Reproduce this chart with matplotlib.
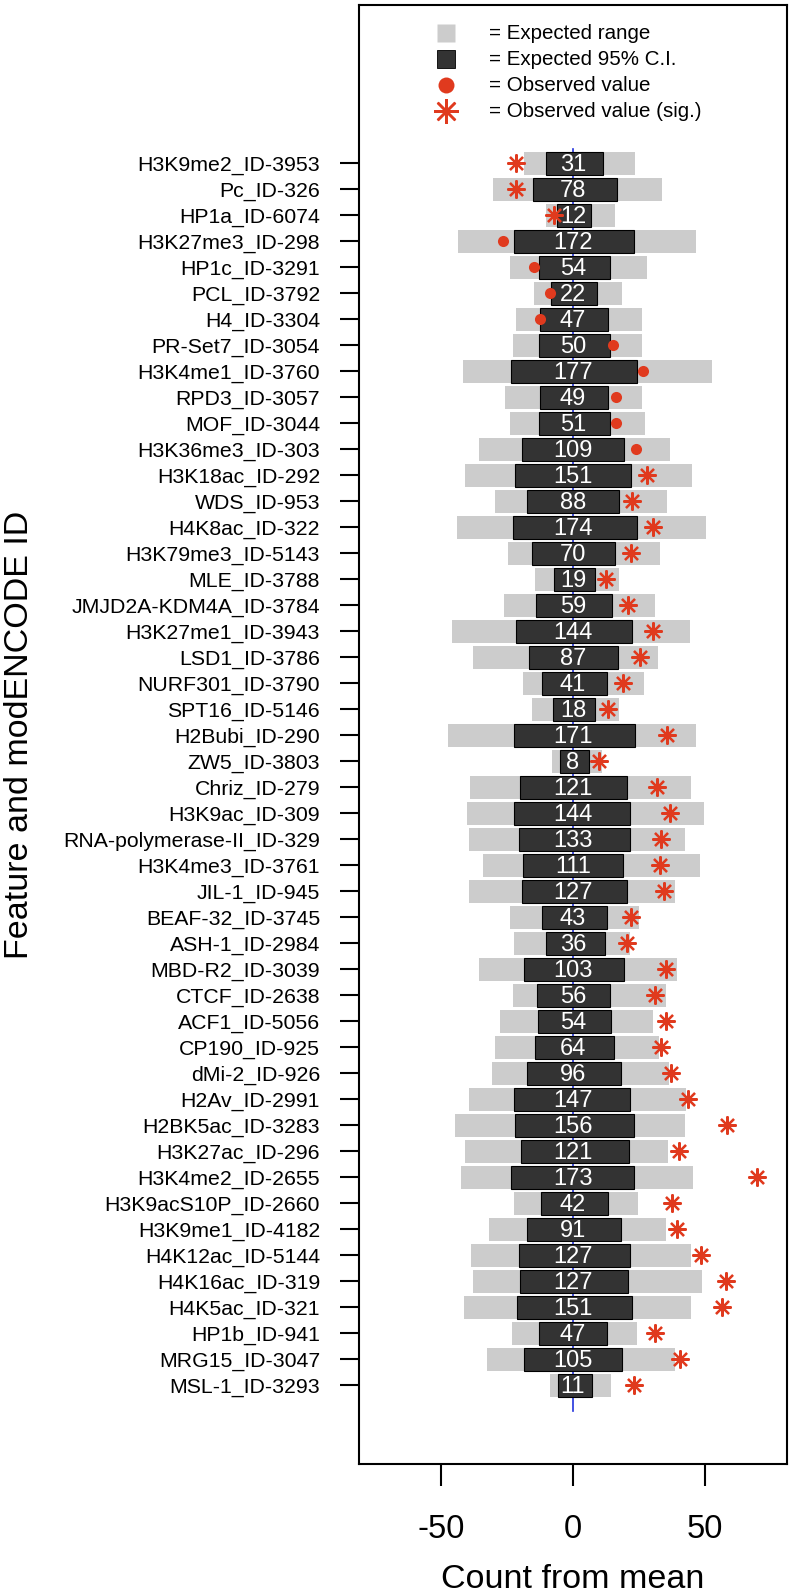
import matplotlib
matplotlib.use("Agg")
import matplotlib.pyplot as plt
import numpy as np

plt.rcParams['font.family'] = ['Liberation Sans', 'DejaVu Sans']
plt.rcParams['axes.unicode_minus'] = False

features = ["H3K9me2_ID-3953", "Pc_ID-326", "HP1a_ID-6074", "H3K27me3_ID-298", "HP1c_ID-3291",
            "PCL_ID-3792", "H4_ID-3304", "PR-Set7_ID-3054", "H3K4me1_ID-3760", "RPD3_ID-3057",
            "MOF_ID-3044", "H3K36me3_ID-303", "H3K18ac_ID-292", "WDS_ID-953", "H4K8ac_ID-322",
            "H3K79me3_ID-5143", "MLE_ID-3788", "JMJD2A-KDM4A_ID-3784", "H3K27me1_ID-3943",
            "LSD1_ID-3786", "NURF301_ID-3790", "SPT16_ID-5146", "H2Bubi_ID-290", "ZW5_ID-3803",
            "Chriz_ID-279", "H3K9ac_ID-309", "RNA-polymerase-II_ID-329", "H3K4me3_ID-3761",
            "JIL-1_ID-945", "BEAF-32_ID-3745", "ASH-1_ID-2984", "MBD-R2_ID-3039", "CTCF_ID-2638",
            "ACF1_ID-5056", "CP190_ID-925", "dMi-2_ID-926", "H2Av_ID-2991", "H2BK5ac_ID-3283",
            "H3K27ac_ID-296", "H3K4me2_ID-2655", "H3K9acS10P_ID-2660", "H3K9me1_ID-4182",
            "H4K12ac_ID-5144", "H4K16ac_ID-319", "H4K5ac_ID-321", "HP1b_ID-941", "MRG15_ID-3047",
            "MSL-1_ID-3293"]

counts = [31, 78, 12, 172, 54, 22, 47, 50, 177, 49, 51, 109, 151, 88, 174, 70, 19, 59, 144,
          87, 41, 18, 171, 8, 121, 144, 133, 111, 127, 43, 36, 103, 56, 54, 64, 96, 147, 156,
          121, 173, 42, 91, 127, 127, 151, 47, 105, 11]

range_lo = [-18.4, -30.4, -10.2, -43.6, -23.9, -14.6, -21.5, -22.7, -41.5, -25.6, -23.7, -35.5,
            -40.9, -29.4, -43.8, -24.7, -14.4, -26.0, -45.7, -37.8, -19.1, -15.5, -47.2, -8.0,
            -39.1, -40.3, -39.5, -34.1, -39.4, -24.0, -22.5, -35.7, -22.7, -27.7, -29.4, -30.7,
            -39.4, -44.8, -40.9, -42.6, -22.3, -31.7, -38.5, -38.0, -41.4, -23.0, -32.6, -8.7]
range_hi = [23.5, 33.6, 15.8, 46.5, 28.0, 18.4, 26.3, 26.0, 52.5, 26.3, 27.1, 36.6, 45.1, 35.5,
            50.3, 33.1, 17.4, 30.9, 44.2, 32.2, 26.9, 17.4, 46.6, 10.9, 44.8, 49.6, 42.6, 48.0,
            38.5, 24.9, 21.7, 39.4, 35.1, 30.3, 32.6, 36.4, 42.8, 42.3, 36.1, 45.3, 24.6, 35.1,
            44.6, 49.0, 44.7, 24.1, 38.6, 14.3]
ci_lo = [-10.4, -15.3, -6.1, -22.5, -12.8, -8.5, -12.5, -12.8, -23.4, -12.6, -12.8, -19.3, -21.8,
         -17.4, -22.7, -15.7, -7.3, -14.0, -21.6, -16.7, -11.9, -7.4, -22.2, -4.9, -20.1, -22.2,
         -20.5, -18.9, -19.4, -11.9, -10.4, -18.6, -13.6, -13.4, -14.3, -17.6, -22.2, -21.8,
         -19.8, -23.6, -12.2, -17.6, -20.5, -19.9, -21.3, -12.8, -18.4, -5.8]
ci_hi = [11.5, 16.7, 6.7, 23.2, 14.0, 9.2, 13.4, 14.0, 24.4, 13.4, 14.0, 19.4, 22.1, 17.3, 24.1,
         16.0, 8.3, 14.8, 22.2, 17.2, 12.8, 8.2, 23.5, 5.9, 20.6, 21.6, 21.5, 18.8, 20.5, 12.8,
         12.2, 19.2, 14.0, 14.4, 15.4, 18.3, 21.6, 23.1, 21.2, 23.2, 13.4, 18.2, 21.6, 21.0,
         22.5, 13.0, 18.4, 7.2]
observed = [-21.6, -21.5, -7.2, -26.6, -14.9, -8.6, -12.6, 15.3, 26.6, 16.4, 16.3, 23.7, 28.0,
            22.5, 30.2, 22.1, 12.4, 20.8, 30.2, 25.3, 18.8, 13.4, 35.7, 10.0, 31.8, 36.6, 33.3,
            33.0, 34.3, 21.8, 20.3, 35.2, 31.2, 35.2, 33.5, 37.2, 43.7, 58.3, 40.0, 69.6, 37.6,
            39.3, 48.5, 58.0, 56.6, 31.1, 40.5, 23.2]
significant = [True, True, True, False, False, False, False, False, False, False, False, False,
               True, True, True, True, True, True, True, True, True, True, True, True, True,
               True, True, True, True, True, True, True, True, True, True, True, True, True,
               True, True, True, True, True, True, True, True, True, True]

legend_labels = ["= Expected range", "= Expected 95% C.I.", "= Observed value",
                 "= Observed value (sig.)"]

LIGHT = "#CCCCCC"
DARK = "#333333"
RED = "#E03A1E"

fig = plt.figure(figsize=(7.93, 15.95), dpi=100)
ax = fig.add_axes([359/793, 1 - 1464/1595, (787-359)/793, (1464-5)/1595])

n = len(features)
y = np.arange(n)
h = 0.87

ax.plot([0, 0], [-0.55, n], color="#2233DD", lw=1.2, zorder=1)
rl = np.array(range_lo); rh = np.array(range_hi)
cl = np.array(ci_lo); ch = np.array(ci_hi)
ax.barh(y, rh - rl, left=rl, height=h, color=LIGHT, edgecolor="none", zorder=2)
ax.barh(y, ch - cl, left=cl, height=h, color=DARK, edgecolor="black", lw=0.8, zorder=3)
for yi, c in zip(y, counts):
    ax.text(0, yi + 0.05, str(c), color="white", ha="center", va="center", fontsize=17, zorder=5)

obs = np.array(observed); sig = np.array(significant)
ax.plot(obs[~sig], y[~sig], 'o', color=RED, ms=8, mec="none", zorder=6)
ax.plot(obs[sig], y[sig], marker=(8, 2, 0), ls="none", color=RED, mec=RED, ms=13, mew=1.6, zorder=6)

# legend
lx, tx = -48, -32
ax.plot(lx, -5, 's', color=LIGHT, ms=13.5, mec="none")
ax.plot(lx, -4, 's', color=DARK, ms=13, mec="black", mew=0.6)
ax.plot(lx, -3, 'o', color=RED, ms=11.5, mec="none")
ax.plot(lx, -2, marker=(8, 2, 0), color=RED, mec=RED, ms=18, mew=1.8)
for i, t in enumerate(legend_labels):
    ax.text(tx, -5 + i, t, fontsize=14.8, va="center", ha="left")

ax.set_xlim(-81.1, 81.1)
ax.set_ylim(50.03, -6.09)
ax.set_yticks(y)
ax.set_yticklabels(features, fontsize=15.3)
ax.set_xticks([-50, 0, 50])
ax.set_xticklabels(["-50", "0", "50"], fontsize=23.5)
ax.tick_params(axis='y', length=14, width=1.5, pad=14)
ax.tick_params(axis='x', length=16, width=1.5, pad=20)
for s in ax.spines.values():
    s.set_linewidth(1.5)
ax.set_xlabel("Count from mean", fontsize=24.5, labelpad=14)

ycenter = 1 - (5 + 1464) / 2 / 1595
fig.text(4 / 793, ycenter, "Feature and modENCODE ID", rotation=90, fontsize=24.5,
         ha="left", va="center")

fig.savefig("out.png", dpi=100)
